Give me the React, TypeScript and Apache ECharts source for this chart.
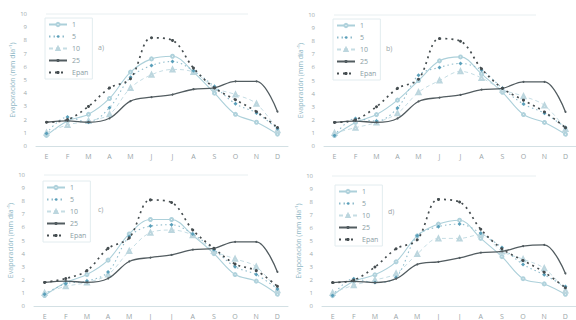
import React, { useEffect, useRef } from "react";
import * as echarts from "echarts";

const months = ["E", "F", "M", "A", "M", "J", "J", "A", "S", "O", "N", "D"];
const yTicks = [0, 10, 1]; // min, max, interval
const panelLabels = ["a)", "b)", "c)", "d)"];
const seriesNames = ["1", "5", "10", "25", "Epan"];

// observed (shared) series
const epanA = [1.8, 2.0, 3.0, 4.4, 5.1, 8.2, 8.0, 5.9, 4.4, 3.5, 2.6, 1.4];
const epanC = [1.8, 2.1, 2.7, 4.4, 5.2, 8.1, 7.9, 5.8, 4.4, 3.2, 2.7, 1.5];
const s25 = [1.8, 1.9, 1.8, 2.1, 3.4, 3.7, 3.9, 4.3, 4.4, 4.9, 4.9, 2.6];
const s25d = [1.8, 1.9, 1.8, 2.1, 3.2, 3.4, 3.7, 4.1, 4.2, 4.6, 4.7, 2.5];

// panel a
const a1 = [0.8, 1.9, 2.4, 3.6, 5.6, 6.6, 6.8, 5.6, 4.0, 2.4, 1.8, 0.9];
const a5 = [0.95, 2.2, 1.8, 2.9, 5.2, 6.1, 6.4, 5.7, 4.5, 3.2, 2.5, 1.3];
const a10 = [1.0, 1.6, 1.9, 2.4, 4.4, 5.4, 5.8, 5.6, 4.4, 3.9, 3.2, 1.2];
// panel b
const b1 = [0.8, 1.8, 2.4, 3.5, 5.0, 6.5, 6.8, 5.5, 4.1, 2.4, 1.8, 0.9];
const b5 = [0.8, 2.1, 1.9, 2.9, 5.4, 6.0, 6.3, 5.8, 4.4, 3.2, 2.5, 1.4];
const b10 = [1.0, 1.4, 1.8, 2.5, 4.1, 5.0, 5.7, 5.2, 4.3, 3.8, 3.1, 1.3];
// panel c
const c1 = [0.8, 1.8, 2.4, 3.5, 5.5, 6.6, 6.6, 5.4, 4.0, 2.4, 1.9, 0.9];
const c5 = [0.9, 1.7, 1.9, 2.6, 5.3, 6.1, 6.2, 5.5, 4.3, 3.0, 2.4, 1.3];
const c10 = [1.0, 1.5, 1.8, 2.4, 4.2, 5.6, 5.8, 5.4, 4.2, 3.6, 3.0, 1.2];
// panel d
const d1 = [0.8, 1.9, 2.4, 3.4, 5.4, 6.3, 6.6, 5.2, 3.8, 2.1, 1.7, 0.9];
const d5 = [0.8, 2.1, 1.8, 2.2, 5.4, 6.1, 6.3, 5.6, 4.5, 3.2, 2.4, 1.5];
const d10 = [1.0, 1.6, 2.0, 2.5, 4.0, 5.2, 5.2, 5.5, 4.2, 3.6, 2.9, 1.2];

const panelData = [
  [a1, a5, a10, s25, epanA],
  [b1, b5, b10, s25, epanA],
  [c1, c5, c10, s25, epanC],
  [d1, d5, d10, s25d, epanA],
];

const grids = [
  { left: 36, top: 14, width: 252, height: 132 },
  { left: 324, top: 15, width: 252, height: 131 },
  { left: 34, top: 175, width: 254, height: 131 },
  { left: 322, top: 176, width: 254, height: 130 },
];
const legendPos = [
  { left: 45, top: 18 },
  { left: 333, top: 19 },
  { left: 43, top: 181 },
  { left: 335, top: 185 },
];
const letterPos = [
  [98, 44],
  [386, 45],
  [98, 206],
  [388, 208],
];

const FONT = "Open Sans";

function styleFor(idx: number) {
  switch (idx) {
    case 0:
      return {
        color: "#b0d2dc",
        lineStyle: { width: 1.1, type: "solid" as const, color: "#acd0da" },
        symbol: "emptyCircle",
        symbolSize: 3,
        z: 2,
      };
    case 1:
      return {
        color: "#5a9fba",
        lineStyle: { width: 1.1, type: [1.5, 3] as any, color: "#8fbccc" },
        symbol: "diamond",
        symbolSize: 4,
        z: 4,
      };
    case 2:
      return {
        color: "#bcd6de",
        lineStyle: { width: 1, type: [4, 3] as any, color: "#c6dde4" },
        symbol: "emptyTriangle",
        symbolSize: 4,
        z: 3,
      };
    case 3:
      return {
        color: "#525c60",
        lineStyle: { width: 1.3, type: "solid" as const, color: "#525c60" },
        symbol: "circle",
        symbolSize: 2,
        z: 5,
      };
    default:
      return {
        color: "#454d50",
        lineStyle: { width: 1.7, type: [2, 4] as any, color: "#454d50" },
        symbol: "circle",
        symbolSize: 3,
        z: 6,
      };
  }
}

export default function App() {
  const ref = useRef<HTMLDivElement>(null);
  useEffect(() => {
    if (!ref.current) return;
    const chart = echarts.init(ref.current, null, { renderer: "svg" });
    const xAxis: any[] = [];
    const yAxis: any[] = [];
    const series: any[] = [];
    const legend: any[] = [];
    const graphic: any[] = [];
    grids.forEach((g, i) => {
      xAxis.push({
        type: "category",
        gridIndex: i,
        data: months,
        boundaryGap: true,
        axisLine: { show: true, lineStyle: { color: "#d3e0e4", width: 1 } },
        axisTick: { show: false },
        axisLabel: { fontSize: 7, color: "#9aa5a8", fontFamily: FONT, margin: 7 },
        splitLine: { show: false },
      });
      yAxis.push({
        type: "value",
        gridIndex: i,
        min: yTicks[0],
        max: yTicks[1],
        interval: yTicks[2],
        name: "Evaporación (mm día⁻¹)",
        nameLocation: "middle",
        nameGap: 20,
        nameTextStyle: { fontSize: 7, color: "#8db6c4", fontFamily: FONT },
        axisLine: { show: false },
        axisTick: { show: false },
        axisLabel: { fontSize: 6, color: "#a0aaad", fontFamily: FONT, margin: 9 },
        splitLine: { show: false },
      });
      panelData[i].forEach((vals, k) => {
        const st = styleFor(k);
        series.push({
          type: "line",
          name: seriesNames[k],
          xAxisIndex: i,
          yAxisIndex: i,
          data: vals,
          smooth: 0.35,
          symbol: st.symbol,
          symbolSize: st.symbolSize,
          itemStyle: { color: st.color },
          lineStyle: st.lineStyle,
          z: st.z,
        });
      });
      legend.push({
        orient: "vertical",
        left: legendPos[i].left,
        top: legendPos[i].top,
        data: seriesNames,
        itemWidth: 18,
        itemHeight: 4,
        itemGap: 5,
        padding: [3, 4, 3, 3],
        borderColor: "#e2ecef",
        borderWidth: 1,
        textStyle: { fontSize: 7, color: "#8a9ea5", fontFamily: FONT },
      });
      graphic.push({
        type: "text",
        left: letterPos[i][0],
        top: letterPos[i][1],
        style: { text: panelLabels[i], fontSize: 7, fill: "#9aa5a8", fontFamily: FONT },
      });
      graphic.push({
        type: "line",
        shape: { x1: g.left + 10, y1: g.top, x2: g.left + g.width - 40, y2: g.top },
        style: { stroke: "#e8eff1", lineWidth: 1 },
      });
    });
    chart.setOption({
      animation: false,
      backgroundColor: "#ffffff",
      grid: grids,
      xAxis,
      yAxis,
      series,
      legend,
      graphic,
    });
    return () => chart.dispose();
  }, []);
  return (
    <div
      ref={ref}
      style={{ position: "fixed", left: 0, top: 0, width: 576, height: 320 }}
    />
  );
}
